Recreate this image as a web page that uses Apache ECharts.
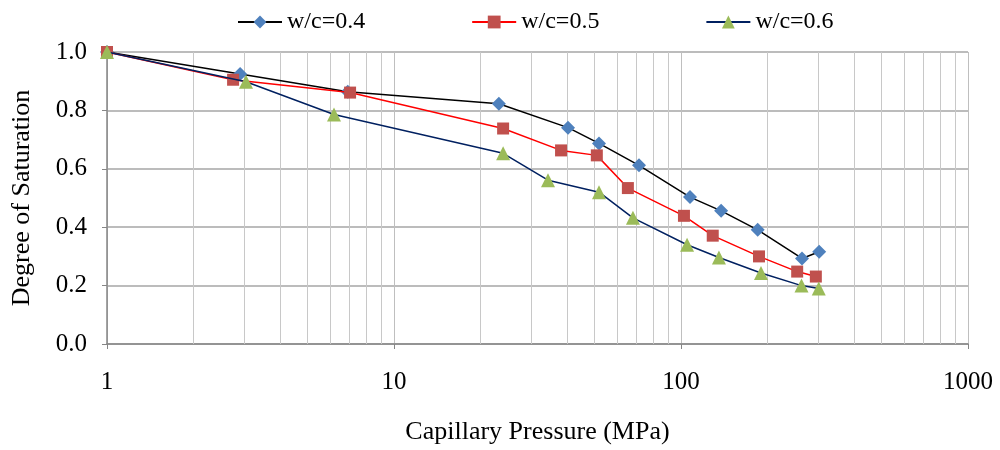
<!DOCTYPE html>
<html>
<head>
<meta charset="utf-8">
<script src="https://cdn.jsdelivr.net/npm/echarts@6/dist/echarts.min.js"></script>
<style>
html,body{margin:0;padding:0;background:#fff;}
#chart{width:1000px;height:450px;}
</style>
</head>
<body>
<div id="chart"></div>
<script>
const seriesNames = ['w/c=0.4', 'w/c=0.5', 'w/c=0.6'];
const px04 = [1, 2.91, 6.9, 23.2, 40.4, 51.8, 71.4, 107.5, 138, 185, 264, 303];
const sat04 = [1.0, 0.925, 0.864, 0.823, 0.741, 0.687, 0.612, 0.503, 0.456, 0.391, 0.293, 0.316];
const px05 = [1, 2.75, 7.03, 24.0, 38.2, 50.9, 65.3, 102.4, 129, 187, 254, 295];
const sat05 = [1.0, 0.905, 0.861, 0.738, 0.663, 0.646, 0.534, 0.439, 0.371, 0.30, 0.248, 0.231];
const px06 = [1, 3.05, 6.18, 24.0, 34.4, 51.8, 68, 105, 135.6, 190, 263, 302];
const sat06 = [1.0, 0.898, 0.786, 0.653, 0.561, 0.52, 0.432, 0.34, 0.296, 0.243, 0.20, 0.19];
const minorGridX = [2,3,4,5,6,7,8,9,20,30,40,50,60,70,80,90,200,300,400,500,600,700,800,900];

const pair = (xs, ys) => xs.map((x, i) => [x, ys[i]]);
const FONT = '"Liberation Serif", "Times New Roman", serif';

const chart = echarts.init(document.getElementById('chart'), null, {renderer: 'canvas'});
chart.setOption({
  animation: false,
  backgroundColor: '#ffffff',
  textStyle: {fontFamily: FONT, color: '#000'},
  legend: {
    data: seriesNames,
    top: 5,
    left: 232,
    itemWidth: 44,
    itemHeight: 16,
    itemGap: 106,
    textStyle: {fontFamily: FONT, fontSize: 24, color: '#000'}
  },
  grid: {left: 107, right: 32, top: 52, bottom: 104, containLabel: false},
  xAxis: {
    type: 'log',
    logBase: 10,
    min: 1,
    max: 1000,
    name: 'Capillary Pressure (MPa)',
    nameLocation: 'middle',
    nameGap: 75,
    nameTextStyle: {fontFamily: FONT, fontSize: 26, color: '#000'},
    axisLine: {show: true, lineStyle: {color: '#868686', width: 1.5}},
    axisTick: {show: true, inside: false, length: 5, lineStyle: {color: '#868686'}},
    axisLabel: {fontFamily: FONT, fontSize: 25, color: '#000', margin: 26, formatter: v => String(Math.round(v))},
    splitLine: {show: true, lineStyle: {color: '#BFBFBF', width: 1}}
  },
  yAxis: {
    type: 'value',
    min: 0,
    max: 1,
    interval: 0.2,
    name: 'Degree of Saturation',
    nameLocation: 'middle',
    nameGap: 72,
    nameTextStyle: {fontFamily: FONT, fontSize: 26, color: '#000'},
    axisLine: {show: true, lineStyle: {color: '#868686', width: 1.5}},
    axisTick: {show: true, inside: false, length: 5, lineStyle: {color: '#868686'}},
    axisLabel: {fontFamily: FONT, fontSize: 25, color: '#000', margin: 20, formatter: v => v.toFixed(1)},
    splitLine: {show: true, lineStyle: {color: '#A6A6A6', width: 1.5}}
  },
  series: [
    {
      name: 'minor-grid',
      type: 'line',
      data: [],
      z: 1,
      silent: true,
      markLine: {
        z: 1,
        silent: true,
        symbol: ['none', 'none'],
        label: {show: false},
        lineStyle: {color: '#C8C8C8', type: 'solid', width: 1},
        emphasis: {disabled: true},
        data: minorGridX.map(v => ({xAxis: v}))
      }
    },
    {
      name: seriesNames[0],
      type: 'line',
      data: pair(px04, sat04),
      symbol: 'diamond',
      symbolSize: 14,
      z: 3,
      lineStyle: {color: '#000000', width: 1.5},
      itemStyle: {color: '#4F81BD'}
    },
    {
      name: seriesNames[1],
      type: 'line',
      data: pair(px05, sat05),
      symbol: 'rect',
      symbolSize: 12,
      z: 4,
      lineStyle: {color: '#FF0000', width: 1.5},
      itemStyle: {color: '#C0504D'}
    },
    {
      name: seriesNames[2],
      type: 'line',
      data: pair(px06, sat06),
      symbol: 'triangle',
      symbolSize: 14,
      z: 5,
      lineStyle: {color: '#002060', width: 1.5},
      itemStyle: {color: '#9BBB59'}
    }
  ]
});
</script>
</body>
</html>
